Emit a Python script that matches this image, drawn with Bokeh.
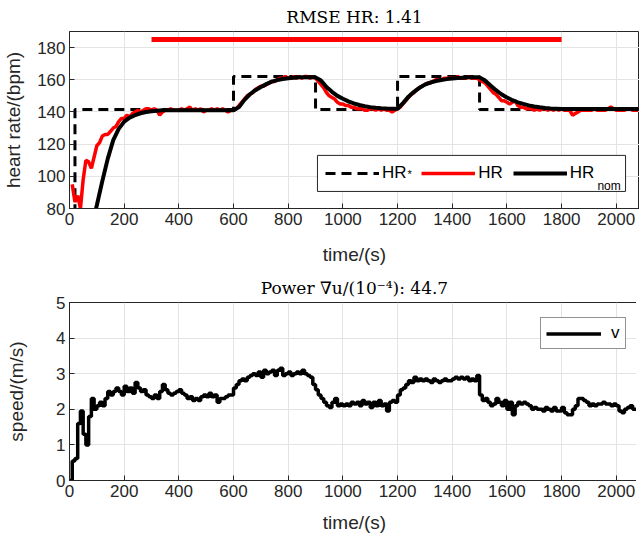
from bokeh.plotting import figure
from bokeh.models import (Legend, LegendItem, FixedTicker, Range1d, Label, BoxAnnotation)
from bokeh.layouts import column
from bokeh.embed import file_html
from bokeh.resources import INLINE

# ---------------- data ----------------
x_ticks = [0, 200, 400, 600, 800, 1000, 1200, 1400, 1600, 1800, 2000]
hr_ticks = [80, 100, 120, 140, 160, 180]
v_ticks = [0, 1, 2, 3, 4, 5]

# reference heart rate HR* (step changes)
t_ref = [0, 20, 600, 900, 1200, 1500, 2085]
hr_ref = [60, 141.5, 162, 141.5, 162, 141.5, 141.5]

# maximum heart-rate bar
t_max = [300, 1800]
hr_max = [185, 185]

# measured heart rate HR (every 10 s from 10 s)
t_hr = list(range(10, 2090, 10))
hr = [
    95, 84, 88, 80, 98, 110, 109, 105, 112, 119,
    121, 125, 126, 126, 128, 130, 131, 134, 136, 136,
    138, 137, 139, 140, 141, 140, 141, 142, 142, 141,
    142, 141, 138, 140, 141, 141, 142, 141, 141, 141,
    142, 141, 142, 143, 141, 142, 141, 142, 140, 141,
    141, 142, 141, 142, 141, 142, 141, 140, 141, 141,
    142, 144, 146, 148, 150, 151, 152, 154, 155, 156,
    156, 157, 158, 159, 159, 160, 161, 161, 162, 161,
    161, 162, 161, 162, 161, 162, 162, 161, 162, 161,
    159, 157, 155, 152, 150, 149, 148, 146, 145, 145,
    144, 144, 143, 143, 142, 142, 142, 141, 141, 142,
    142, 141, 142, 141, 142, 141, 141, 140, 141, 142,
    143, 145, 147, 149, 151, 152, 154, 155, 156, 157,
    158, 158, 159, 160, 160, 160, 161, 161, 161, 161,
    161, 162, 161, 161, 161, 162, 161, 161, 161, 160,
    159, 158, 156, 154, 152, 151, 149, 147, 147, 146,
    145, 146, 147, 144, 143, 143, 142, 142, 142, 141,
    142, 141, 142, 142, 141, 142, 141, 142, 141, 142,
    141, 141, 141, 138, 139, 140, 141, 141, 141, 141,
    141, 142, 141, 141, 141, 141, 142, 143, 142, 141,
    141, 141, 141, 142, 142, 141, 141, 141,
]

# nominal heart rate HR_nom (every 20 s from 80 s)
t_nom = list(range(80, 2081, 20))
hr_nom = [
    68, 82, 97, 111, 122.5, 129.5, 134, 136.5, 138, 139.2, 140, 140.5, 140.8, 141,
    141, 141, 141, 141, 141, 141, 141, 141, 141, 141, 141, 141, 141,
    143, 147.5, 151, 153.5, 155.5, 157.3, 158.8, 159.8, 160.5, 161, 161.3, 161.5, 161.5, 161.5, 161.5,
    159.5, 155.5, 152.5, 150, 148.2, 146.6, 145.3, 144.3, 143.6, 143, 142.6, 142.3, 142.1, 142, 142,
    145.5, 149.5, 152.5, 155, 157, 158.3, 159.2, 159.9, 160.4, 160.8, 161.1, 161.3, 161.5, 161.5, 161.5,
    159.5, 156.5, 153.5, 151, 149, 147.3, 146, 145, 144.1, 143.4, 142.9, 142.5, 142.2, 142,
    141.8, 141.8, 141.8, 141.8, 141.8, 141.8, 141.8, 141.8, 141.8, 141.8, 141.8, 141.8, 141.8, 141.8, 141.8,
]

# speed v (every 10 s from 0 s)
t_v = list(range(0, 2090, 10))
v = [
    0, 0.55, 0.62, 1.6, 1.95, 1.3, 1.0, 1.8, 2.3, 2.0,
    2.1, 2.2, 2.1, 2.3, 2.5, 2.4, 2.5, 2.6, 2.5, 2.4,
    2.65, 2.5, 2.6, 2.45, 2.75, 2.6, 2.5, 2.55, 2.4, 2.35,
    2.3, 2.4, 2.3, 2.5, 2.7, 2.55, 2.45, 2.4, 2.45, 2.5,
    2.55, 2.45, 2.4, 2.3, 2.35, 2.25, 2.3, 2.25, 2.35, 2.4,
    2.35, 2.45, 2.35, 2.4, 2.2, 2.3, 2.3, 2.35, 2.4, 2.4,
    2.6, 2.7, 2.8, 2.85, 2.8, 2.9, 2.95, 3.0, 2.95, 3.05,
    2.9, 3.1, 3.0, 3.05, 3.1, 2.95, 3.1, 3.15, 2.95, 3.0,
    3.05, 2.95, 3.0, 3.05, 3.0, 3.1, 3.0, 2.95, 2.9, 2.7,
    2.55, 2.4, 2.3, 2.2, 2.1, 2.05, 2.2, 2.3, 2.1, 2.15,
    2.1, 2.15, 2.1, 2.2, 2.15, 2.2, 2.1, 2.25, 2.15, 2.2,
    2.05, 2.2, 2.1, 2.25, 2.1, 2.15, 1.95, 2.2, 2.25, 2.2,
    2.4, 2.55, 2.6, 2.7, 2.8, 2.75, 2.9, 2.8, 2.85, 2.8,
    2.85, 2.8, 2.75, 2.85, 2.8, 2.75, 2.8, 2.85, 2.8, 2.8,
    2.85, 2.9, 2.85, 2.9, 2.85, 2.9, 2.8, 2.85, 2.8, 2.95,
    2.4, 2.25, 2.3, 2.2, 2.1, 2.15, 2.3, 2.2, 2.1, 2.25,
    2.0, 2.2, 1.85, 2.1, 2.2, 2.15, 2.2, 2.15, 2.1, 2.0,
    2.05, 2.0, 2.0, 1.95, 2.05, 2.0, 1.95, 2.05, 1.95, 1.95,
    2.05, 1.9, 1.85, 1.85, 2.0, 2.1, 2.3, 2.3, 2.25, 2.2,
    2.1, 2.15, 2.1, 2.15, 2.15, 2.2, 2.15, 2.15, 2.1, 2.15,
    2.1, 1.95, 1.9, 2.0, 2.05, 2.1, 2.0, 2.0, 2.0,
]

# ---------------- styling helpers ----------------
AX = "#262626"
SANS = "Liberation Sans"
SERIF = "DejaVu Serif"


def style(p, xlabel, ylabel, yticks, ylab_standoff, xlab_standoff, title_standoff):
    p.title.text_font = SERIF
    p.title.text_font_size = "17px"
    p.title.text_font_style = "normal"
    p.title.align = "center"
    p.title.text_color = "#000000"
    p.title.standoff = title_standoff
    p.outline_line_color = AX
    p.outline_line_width = 1
    for ax in (p.xaxis[0], p.yaxis[0]):
        ax.axis_line_color = AX
        ax.major_tick_line_color = AX
        ax.major_tick_in = 5
        ax.major_tick_out = 0
        ax.minor_tick_in = 0
        ax.minor_tick_out = 0
        ax.major_label_text_font = SANS
        ax.major_label_text_font_size = "17px"
        ax.major_label_text_color = AX
        ax.axis_label_text_font = SANS
        ax.axis_label_text_font_size = "19px"
        ax.axis_label_text_font_style = "normal"
        ax.axis_label_text_color = AX
        ax.major_label_standoff = 4
    p.xaxis[0].ticker = FixedTicker(ticks=x_ticks)
    p.yaxis[0].ticker = FixedTicker(ticks=yticks)
    p.xaxis[0].axis_label = xlabel
    p.yaxis[0].axis_label = ylabel
    p.xaxis[0].axis_label_standoff = xlab_standoff
    p.yaxis[0].axis_label_standoff = ylab_standoff
    p.xgrid.ticker = FixedTicker(ticks=x_ticks)
    p.ygrid.ticker = FixedTicker(ticks=yticks)
    for g in (p.xgrid[0], p.ygrid[0]):
        g.grid_line_color = "#e3e3e3"
        g.grid_line_width = 1


# ---------------- top figure ----------------
p1 = figure(frame_width=570, frame_height=177, min_border_left=62, min_border_right=0,
            min_border_top=29, min_border_bottom=60,
            x_range=Range1d(0, 2085), y_range=Range1d(80, 190),
            output_backend="svg", toolbar_location=None, title="RMSE HR: 1.41")
style(p1, "time/(s)", "heart rate/(bpm)", hr_ticks, 10, 16, 9)

r_ref = p1.step(t_ref, hr_ref, mode="after", line_color="black", line_width=3, line_dash="10 6")
r_hr = p1.line(t_hr, hr, line_color="#ff0000", line_width=3.5)
r_nom = p1.line(t_nom, hr_nom, line_color="black", line_width=4)
p1.line(t_max, hr_max, line_color="#ff0000", line_width=5)

# legend frame (white box) drawn beneath the legend entries
p1.add_layout(BoxAnnotation(left=907, right=2034, bottom=90.6, top=113.0, level="glyph",
                            fill_color="white", fill_alpha=1, line_color=AX, line_width=1,
                            line_alpha=1))
leg1 = Legend(items=[LegendItem(label="HR\u00a0", renderers=[r_ref]),
                     LegendItem(label="HR", renderers=[r_hr]),
                     LegendItem(label="HR\u00a0\u00a0\u00a0\u00a0\u00a0", renderers=[r_nom])],
              orientation="horizontal", location=(248, 17),
              glyph_width=54, glyph_height=18, label_standoff=3, spacing=10,
              padding=8, margin=0, label_text_font=SANS, label_text_font_size="17px",
              label_text_color="#000000",
              border_line_color=AX, border_line_alpha=0, background_fill_alpha=0)
p1.add_layout(leg1, "center")
# superscript / subscript parts of the legend labels
p1.add_layout(Label(x=1236, y=101.6, text="*", text_baseline="alphabetic",
                    text_font=SANS, text_font_size="11px", text_color="#000000"))
p1.add_layout(Label(x=1931, y=93.8, text="nom", text_baseline="alphabetic",
                    text_font=SANS, text_font_size="12px", text_color="#000000"))

# ---------------- bottom figure ----------------
p2 = figure(frame_width=570, frame_height=178, min_border_left=62, min_border_right=0,
            min_border_top=34, min_border_bottom=54,
            x_range=Range1d(0, 2085), y_range=Range1d(0, 5),
            output_backend="svg", toolbar_location=None,
            title="Power \u2207u/(10\u207b\u2074): 44.7")
style(p2, "time/(s)", "speed/(m/s)", v_ticks, 26, 12, 10)

r_v = p2.step(t_v, v, mode="after", line_color="black", line_width=3.5)
leg2 = Legend(items=[LegendItem(label="v", renderers=[r_v])],
              orientation="vertical", location=(474, 131),
              glyph_width=55, glyph_height=15, label_standoff=10, label_width=9,
              padding=5, margin=0,
              label_text_font=SANS, label_text_font_size="17px", label_text_color="#000000",
              border_line_color=AX, border_line_width=1, background_fill_alpha=1)
p2.add_layout(leg2, "center")

layout = column(p1, p2, spacing=0)
open("out.html", "w").write(file_html(layout, INLINE))
